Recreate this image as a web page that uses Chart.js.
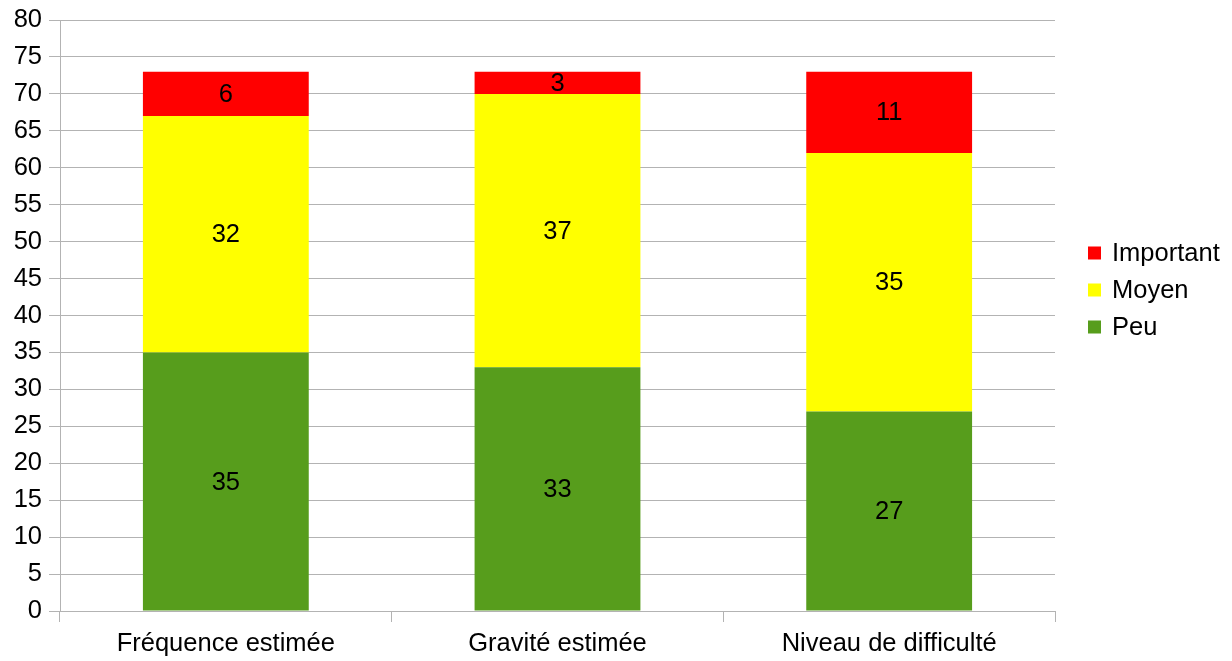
<!DOCTYPE html>
<html>
<head>
<meta charset="utf-8">
<script src="https://cdn.jsdelivr.net/npm/chart.js@4.4.1/dist/chart.umd.min.js"></script>
<style>
  html, body { margin: 0; padding: 0; background: #fff; }
  #wrap { width: 1232px; height: 661px; }
</style>
</head>
<body>
<div id="wrap"><canvas id="chart"></canvas></div>
<script>
const categories = ['Fréquence estimée', 'Gravité estimée', 'Niveau de difficulté'];
const peu = [35, 33, 27];
const moyen = [32, 37, 35];
const important = [6, 3, 11];
const yMin = 0, yMax = 80, yStep = 5;

const FONT = 'Liberation Sans, Arial, sans-serif';
const SIZE = 25.5;
const GRID = '#b3b3b3';

// values written in the middle of each segment
const barLabels = {
    id: 'barLabels',
    afterDatasetsDraw(chart) {
        const ctx = chart.ctx;
        ctx.save();
        ctx.font = SIZE + 'px ' + FONT;
        ctx.fillStyle = '#000';
        ctx.textAlign = 'center';
        ctx.textBaseline = 'middle';
        chart.data.datasets.forEach((ds, i) => {
            chart.getDatasetMeta(i).data.forEach((bar, j) => {
                ctx.fillText(ds.data[j], bar.x, (bar.y + bar.base) / 2 + 1);
            });
        });
        ctx.restore();
    }
};

// legend on the right, top series first
const sideLegend = {
    id: 'sideLegend',
    afterDraw(chart) {
        const ctx = chart.ctx;
        const items = chart.data.datasets.slice().reverse();
        ctx.save();
        ctx.font = SIZE + 'px ' + FONT;
        ctx.textBaseline = 'middle';
        items.forEach((ds, k) => {
            const cy = 253 + k * 37;
            ctx.fillStyle = ds.backgroundColor;
            ctx.fillRect(1088, cy - 6.5, 13, 13);
            ctx.fillStyle = '#000';
            ctx.fillText(ds.label, 1112, cy + 1);
        });
        ctx.restore();
    }
};

new Chart(document.getElementById('chart'), {
    type: 'bar',
    data: {
        labels: categories,
        datasets: [
            { label: 'Peu', data: peu, backgroundColor: '#579d1c' },
            { label: 'Moyen', data: moyen, backgroundColor: '#ffff00' },
            { label: 'Important', data: important, backgroundColor: '#ff0000' }
        ]
    },
    options: {
        responsive: true,
        maintainAspectRatio: false,
        animation: false,
        layout: { padding: { top: 20, right: 177, left: 0, bottom: 0 } },
        datasets: { bar: { categoryPercentage: 1, barPercentage: 0.5 } },
        plugins: {
            legend: { display: false },
            tooltip: { enabled: false }
        },
        scales: {
            x: {
                stacked: true,
                grid: {
                    offset: true,
                    color: (c) => c.index === categories.length ? GRID : 'rgba(0,0,0,0)',
                    tickColor: GRID,
                    tickLength: 11
                },
                border: { color: GRID },
                ticks: { color: '#000', font: { family: FONT, size: SIZE }, padding: 7, maxRotation: 0 },
                afterFit(scale) { scale.height = 50; }
            },
            y: {
                stacked: true,
                min: yMin,
                max: yMax,
                grid: { color: GRID, tickLength: 11 },
                border: { color: GRID },
                ticks: { stepSize: yStep, color: '#000', font: { family: FONT, size: SIZE }, padding: 7 },
                afterFit(scale) { scale.width = 60; scale.paddingTop = 0; }
            }
        }
    },
    plugins: [barLabels, sideLegend]
});
</script>
</body>
</html>
